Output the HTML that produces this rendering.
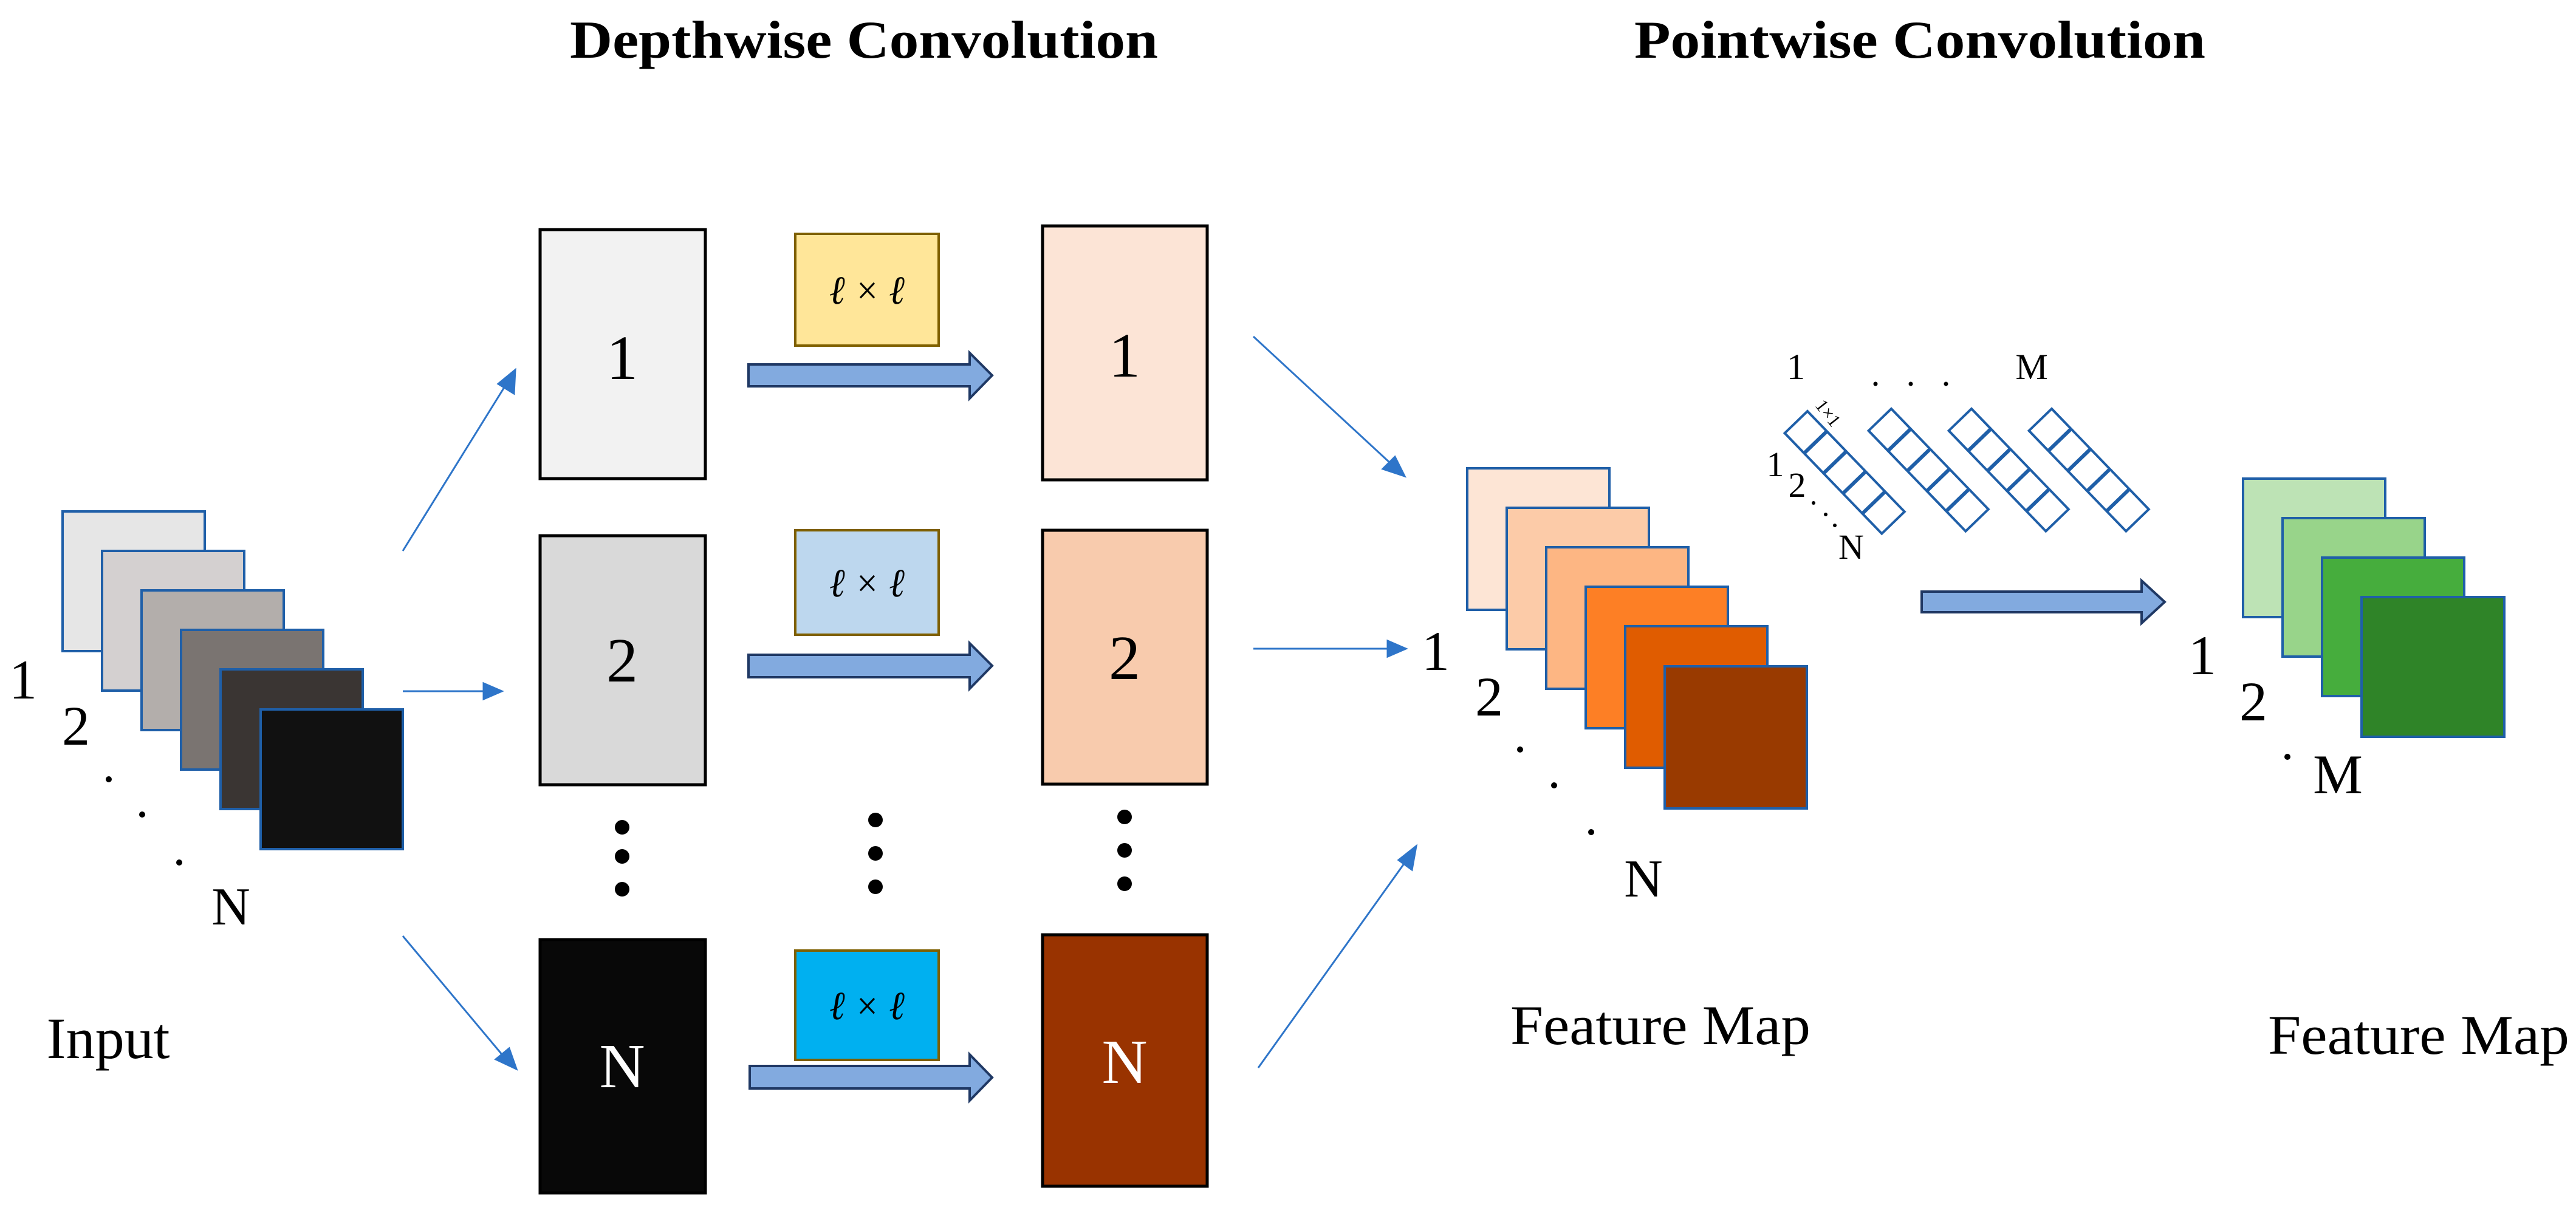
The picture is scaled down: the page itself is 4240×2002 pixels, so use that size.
<!DOCTYPE html>
<html><head><meta charset="utf-8"><style>
html,body{margin:0;padding:0;background:#fff;}
svg{display:block;}
svg text{font-family:"Liberation Serif","Times New Roman",Times,serif;}
</style></head><body>
<svg width="4240" height="2002" viewBox="0 0 4240 2002" xmlns="http://www.w3.org/2000/svg" font-family="Liberation Serif, Times New Roman, serif">
<!-- Titles -->
<text x="1422" y="95" font-size="88" font-weight="bold" text-anchor="middle" textLength="968" lengthAdjust="spacingAndGlyphs">Depthwise Convolution</text>
<text x="3160" y="95" font-size="88" font-weight="bold" text-anchor="middle" textLength="940" lengthAdjust="spacingAndGlyphs">Pointwise Convolution</text>

<!-- Input stack -->
<g stroke="#1f5fa8" stroke-width="4">
<rect x="103" y="842" width="234" height="230" fill="#e6e6e6"/>
<rect x="168" y="907" width="234" height="230" fill="#d4d0d0"/>
<rect x="233" y="972" width="234" height="230" fill="#b3aeab"/>
<rect x="298" y="1037" width="234" height="230" fill="#7a7471"/>
<rect x="363" y="1102" width="234" height="230" fill="#3a3533"/>
<rect x="429" y="1168" width="234" height="230" fill="#111111"/>
</g>
<text x="38" y="1150" font-size="92" text-anchor="middle">1</text>
<text x="125" y="1226" font-size="92" text-anchor="middle">2</text>
<circle cx="179" cy="1283" r="5"/><circle cx="234" cy="1341" r="5"/><circle cx="295" cy="1420" r="5"/>
<text x="380" y="1522" font-size="88" text-anchor="middle">N</text>
<text x="178" y="1742" font-size="96" text-anchor="middle" textLength="203" lengthAdjust="spacingAndGlyphs">Input</text>

<!-- thin arrows -->
<g stroke="#2e75c9" stroke-width="3" fill="#2e75c9">
<line x1="663" y1="907" x2="836" y2="628"/>
<polygon points="848,609 846,648 820,632"/>
<line x1="663" y1="1138" x2="800" y2="1138"/>
<polygon points="826,1138 796,1125 796,1151"/>
<line x1="663" y1="1541" x2="832" y2="1743"/>
<polygon points="850,1760 816,1744 838,1726"/>

<line x1="2063" y1="554" x2="2290" y2="764"/>
<polygon points="2312,784 2276,772 2296,752"/>
<line x1="2063" y1="1068" x2="2288" y2="1068"/>
<polygon points="2314,1068 2284,1055 2284,1081"/>
<line x1="2071" y1="1758" x2="2316" y2="1415"/>
<polygon points="2331,1393 2324,1432 2302,1416"/>
</g>

<!-- depthwise input boxes -->
<g stroke="#000" stroke-width="5">
<rect x="889" y="378" width="272" height="410" fill="#f2f2f2"/>
<rect x="889" y="882" width="272" height="410" fill="#d9d9d9"/>
<rect x="889" y="1547" width="272" height="417" fill="#080808"/>
</g>
<text x="1024" y="624" font-size="104" text-anchor="middle">1</text>
<text x="1024" y="1122" font-size="104" text-anchor="middle">2</text>
<text x="1024" y="1790" font-size="104" text-anchor="middle" fill="#fff">N</text>
<circle cx="1024" cy="1362" r="12"/><circle cx="1024" cy="1410" r="12"/><circle cx="1024" cy="1464" r="12"/>

<!-- kernels -->
<g stroke="#7f6000" stroke-width="4">
<rect x="1309" y="385" width="236" height="184" fill="#ffe699"/>
<rect x="1309" y="873" width="236" height="172" fill="#bdd7ee"/>
<rect x="1309" y="1565" width="236" height="180" fill="#00b0f0"/>
</g>
<g font-size="66" font-style="italic" text-anchor="middle">
<text x="1427" y="500" textLength="124" lengthAdjust="spacingAndGlyphs">ℓ × ℓ</text>
<text x="1427" y="982" textLength="124" lengthAdjust="spacingAndGlyphs">ℓ × ℓ</text>
<text x="1427" y="1678" textLength="124" lengthAdjust="spacingAndGlyphs">ℓ × ℓ</text>
</g>
<circle cx="1441" cy="1350" r="12"/><circle cx="1441" cy="1405" r="12"/><circle cx="1441" cy="1460" r="12"/>

<!-- big arrows -->
<g fill="#82aadf" stroke="#1f3864" stroke-width="4">
<polygon points="1232,600 1596,600 1596,581 1633,618 1596,656 1596,636 1232,636"/>
<polygon points="1232,1078 1596,1078 1596,1059 1633,1096 1596,1134 1596,1115 1232,1115"/>
<polygon points="1234,1755 1596,1755 1596,1736 1633,1774 1596,1812 1596,1792 1234,1792"/>
<polygon points="3163,974 3525,974 3525,956 3563,991 3525,1026 3525,1008 3163,1008"/>
</g>

<!-- depthwise output boxes -->
<g stroke="#000" stroke-width="5">
<rect x="1716" y="372" width="271" height="418" fill="#fce4d6"/>
<rect x="1716" y="873" width="271" height="418" fill="#f8cbad"/>
<rect x="1716" y="1539" width="271" height="414" fill="#993300"/>
</g>
<text x="1851" y="620" font-size="104" text-anchor="middle">1</text>
<text x="1851" y="1118" font-size="104" text-anchor="middle">2</text>
<text x="1851" y="1783" font-size="104" text-anchor="middle" fill="#fff">N</text>
<circle cx="1851" cy="1345" r="12"/><circle cx="1851" cy="1400" r="12"/><circle cx="1851" cy="1455" r="12"/>

<!-- feature map stack -->
<g stroke="#1f5fa8" stroke-width="4">
<rect x="2415" y="771" width="234" height="233" fill="#fde5d5"/>
<rect x="2480" y="836" width="234" height="233" fill="#fccba8"/>
<rect x="2545" y="901" width="234" height="233" fill="#fdb683"/>
<rect x="2610" y="966" width="234" height="233" fill="#fd7f25"/>
<rect x="2675" y="1031" width="234" height="233" fill="#e05c00"/>
<rect x="2740" y="1097" width="234" height="234" fill="#993a00"/>
</g>
<text x="2363" y="1103" font-size="92" text-anchor="middle">1</text>
<text x="2451" y="1178" font-size="92" text-anchor="middle">2</text>
<circle cx="2502" cy="1234" r="5"/><circle cx="2558" cy="1293" r="5"/><circle cx="2619" cy="1370" r="5"/>
<text x="2705" y="1476" font-size="88" text-anchor="middle">N</text>
<text x="2733" y="1719" font-size="92" text-anchor="middle" textLength="494" lengthAdjust="spacingAndGlyphs">Feature Map</text>

<!-- pointwise kernels -->
<g fill="#fff" stroke="#1f5fa8" stroke-width="4">
<g transform="translate(2975,677) rotate(46)"><rect x="0" y="0" width="230" height="52"/><path d="M46 0V52M92 0V52M138 0V52M184 0V52" stroke-width="6"/></g>
<g transform="translate(3113,673) rotate(46)"><rect x="0" y="0" width="230" height="52"/><path d="M46 0V52M92 0V52M138 0V52M184 0V52" stroke-width="6"/></g>
<g transform="translate(3245,673) rotate(46)"><rect x="0" y="0" width="230" height="52"/><path d="M46 0V52M92 0V52M138 0V52M184 0V52" stroke-width="6"/></g>
<g transform="translate(3377,673) rotate(46)"><rect x="0" y="0" width="230" height="52"/><path d="M46 0V52M92 0V52M138 0V52M184 0V52" stroke-width="6"/></g>
</g>
<text x="2956" y="624" font-size="60" text-anchor="middle">1</text>
<text x="3344" y="624" font-size="60" text-anchor="middle">M</text>
<circle cx="3087" cy="632" r="3.5"/><circle cx="3145" cy="632" r="3.5"/><circle cx="3203" cy="632" r="3.5"/>
<text x="3009" y="690" font-size="30" text-anchor="middle" transform="rotate(52 3009 680)">1×1</text>
<text x="2922" y="784" font-size="58" text-anchor="middle">1</text>
<text x="2958" y="818" font-size="58" text-anchor="middle">2</text>
<circle cx="2985" cy="828" r="3"/><circle cx="3005" cy="847" r="3"/><circle cx="3020" cy="865" r="3"/>
<text x="3047" y="920" font-size="58" text-anchor="middle">N</text>

<!-- output stack -->
<g stroke="#1f5fa8" stroke-width="4">
<rect x="3692" y="788" width="234" height="228" fill="#bde3b5"/>
<rect x="3757" y="853" width="234" height="228" fill="#98d48a"/>
<rect x="3822" y="918" width="234" height="228" fill="#46ad3d"/>
<rect x="3887" y="983" width="235" height="230" fill="#2f8428"/>
</g>
<text x="3625" y="1110" font-size="92" text-anchor="middle">1</text>
<text x="3709" y="1186" font-size="92" text-anchor="middle">2</text>
<circle cx="3765" cy="1246" r="5"/>
<text x="3848" y="1306" font-size="92" text-anchor="middle">M</text>
<text x="3981" y="1735" font-size="92" text-anchor="middle" textLength="496" lengthAdjust="spacingAndGlyphs">Feature Map</text>
</svg>
</body></html>
